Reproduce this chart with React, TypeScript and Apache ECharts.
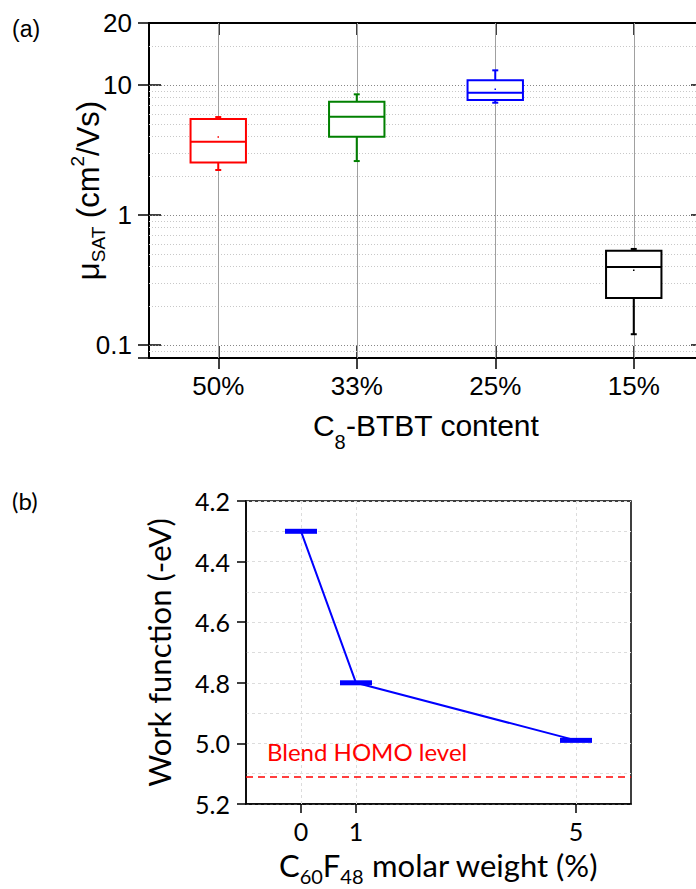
import React, { useEffect, useRef } from "react";
import * as echarts from "echarts";

// ---- Panel (a): saturation mobility vs. C8-BTBT content (box plots, log scale)
const contentCategories = ["50%", "33%", "25%", "15%"];
const boxColors = ["#ff0000", "#008000", "#0000ff", "#000000"];
const mobilityMin = [2.22, 2.6, 7.31, 0.121];
const mobilityQ1 = [2.54, 4.0, 7.67, 0.23];
const mobilityMedian = [3.66, 5.7, 8.73, 0.398];
const mobilityQ3 = [5.47, 7.44, 10.9, 0.53];
const mobilityMax = [5.67, 8.48, 12.97, 0.548];
const mobilityMean: (number | null)[] = [3.98, null, 9.27, 0.376];

const mobilityAxisMin = 0.0794;
const mobilityAxisMax = 30;
const mobilityTopLabel = "20";
const majorGridValues = [0.1, 1, 10];
const minorGridValues = [
  0.09, 0.2, 0.3, 0.4, 0.5, 0.6, 0.7, 0.8, 0.9,
  2, 3, 4, 5, 6, 7, 8, 9, 20,
];

// ---- Panel (b): work function vs. C60F48 molar weight
const weightPercent = [0, 1, 5];
const workFunction = [4.3, 4.8, 4.99];
const weightTicks = [0, 1, 5];
const homoLevel = 5.11;
const homoLabel = "Blend HOMO level";

const ARIAL = "Liberation Sans";
const SANS = "Lato";

function buildOption(): echarts.EChartsOption {
  const boxRows = contentCategories.map((_, i) => [
    i,
    mobilityMin[i],
    mobilityQ1[i],
    mobilityMedian[i],
    mobilityQ3[i],
    mobilityMax[i],
    mobilityMean[i] == null ? NaN : mobilityMean[i],
  ]);

  const logAxisBase = {
    type: "log" as const,
    logBase: 10,
    gridIndex: 0,
    min: mobilityAxisMin,
    max: mobilityAxisMax,
    splitLine: { show: false },
    minorTick: { show: false },
  };

  const catAxisBase = {
    type: "category" as const,
    gridIndex: 0,
    data: contentCategories,
    boundaryGap: true,
    splitLine: { show: false },
  };

  const hGrid = [
    ...majorGridValues.map((v) => ({
      yAxis: v,
      lineStyle: { color: "#888", type: [1, 2] as number[], width: 1 },
    })),
    ...minorGridValues.map((v) => ({
      yAxis: v,
      lineStyle: { color: "#c8c8c8", type: [1, 2] as number[], width: 1 },
    })),
  ];
  const vGrid = contentCategories.map((c) => ({
    xAxis: c,
    lineStyle: { color: "#a0a0a0", type: "solid" as const, width: 1 },
  }));

  return {
    animation: false,
    backgroundColor: "#ffffff",
    textStyle: { fontFamily: ARIAL },
    grid: [
      {
        left: 149,
        top: 23,
        right: -7,
        bottom: 531,
        show: false,
        outerBoundsMode: "none",
      },
      {
        left: 246,
        top: 501,
        right: 65,
        bottom: 85,
        show: true,
        borderColor: "#000",
        borderWidth: 1.5,
        outerBoundsMode: "none",
      },
    ] as any,
    xAxis: [
      {
        ...catAxisBase,
        position: "bottom",
        axisLine: { show: true, lineStyle: { color: "#000", width: 2 } },
        axisTick: {
          show: true,
          alignWithLabel: true,
          inside: false,
          length: 11,
          lineStyle: { color: "#000", width: 1.5 },
        },
        axisLabel: {
          show: true,
          margin: 15,
          color: "#000",
          fontFamily: ARIAL,
          fontSize: 26,
        },
        name: "{m|C}{s|8}{m|-BTBT content}",
        nameLocation: "middle",
        nameGap: 52,
        nameMoveOverlap: false,
        nameTextStyle: {
          rich: {
            m: {
              fontFamily: ARIAL,
              fontSize: 30,
              lineHeight: 34,
              verticalAlign: "top",
              color: "#000",
            },
            s: {
              fontFamily: ARIAL,
              fontSize: 20,
              lineHeight: 42,
              verticalAlign: "bottom",
              color: "#000",
            },
          },
        },
      },
      {
        ...catAxisBase,
        position: "bottom",
        axisLine: { show: false },
        axisTick: {
          show: true,
          alignWithLabel: true,
          inside: true,
          length: 12,
          lineStyle: { color: "#000", width: 1.5 },
        },
        axisLabel: { show: false },
      },
      {
        ...catAxisBase,
        position: "top",
        axisLine: { show: true, lineStyle: { color: "#000", width: 2 } },
        axisTick: {
          show: true,
          alignWithLabel: true,
          inside: true,
          length: 12,
          lineStyle: { color: "#000", width: 1.5 },
        },
        axisLabel: { show: false },
      },
      {
        type: "value",
        gridIndex: 1,
        min: -1,
        max: 6,
        interval: 1,
        axisLine: { show: true, onZero: false, lineStyle: { color: "#000", width: 1.5 } },
        axisTick: {
          show: true,
          length: 9,
          customValues: weightTicks,
          lineStyle: { color: "#000", width: 1.5 },
        },
        axisLabel: {
          show: true,
          customValues: weightTicks,
          margin: 14,
          color: "#000",
          fontFamily: SANS,
          fontSize: 25,
        },
        splitLine: { show: false },
        name: "{m|C}{s|60}{m|F}{s|48}{m| molar weight (%)}",
        nameLocation: "middle",
        nameGap: 45,
        nameMoveOverlap: false,
        nameTextStyle: {
          rich: {
            m: {
              fontFamily: SANS,
              fontSize: 31,
              lineHeight: 34,
              verticalAlign: "top",
              color: "#000",
            },
            s: {
              fontFamily: SANS,
              fontSize: 20,
              lineHeight: 37,
              verticalAlign: "bottom",
              color: "#000",
            },
          },
        },
      },
    ] as any,
    yAxis: [
      {
        ...logAxisBase,
        position: "left",
        axisLine: { show: true, lineStyle: { color: "#000", width: 2 } },
        axisTick: {
          show: true,
          inside: false,
          length: 11,
          lineStyle: { color: "#000", width: 1.5 },
        },
        axisLabel: {
          show: true,
          margin: 17,
          color: "#000",
          fontFamily: ARIAL,
          fontSize: 26,
          formatter: (v: number) => {
            if (v >= mobilityAxisMax * 0.99) return mobilityTopLabel;
            if (v < 0.095) return "";
            return String(v);
          },
        },
        name: "{m|μ}{s|SAT}{m| (cm}{p|2}{m|/Vs)}",
        nameLocation: "middle",
        nameGap: 41,
        nameRotate: 90,
        nameMoveOverlap: false,
        nameTextStyle: {
          rich: {
            m: {
              fontFamily: ARIAL,
              fontSize: 31,
              lineHeight: 34,
              verticalAlign: "middle",
              color: "#000",
            },
            s: {
              fontFamily: ARIAL,
              fontSize: 19,
              lineHeight: 40,
              verticalAlign: "bottom",
              color: "#000",
            },
            p: {
              fontFamily: ARIAL,
              fontSize: 19,
              lineHeight: 19,
              verticalAlign: "top",
              color: "#000",
            },
          },
        },
      },
      {
        ...logAxisBase,
        position: "left",
        axisLine: { show: false },
        axisTick: {
          show: true,
          inside: true,
          length: 12,
          lineStyle: { color: "#000", width: 1.5 },
        },
        axisLabel: { show: false },
      },
      {
        ...logAxisBase,
        position: "right",
        axisLine: { show: true, lineStyle: { color: "#000", width: 2 } },
        axisTick: {
          show: true,
          inside: true,
          length: 12,
          lineStyle: { color: "#000", width: 1.5 },
        },
        axisLabel: { show: false },
      },
      {
        type: "value",
        gridIndex: 1,
        inverse: true,
        min: 4.2,
        max: 5.2,
        interval: 0.2,
        axisLine: { show: true, onZero: false, lineStyle: { color: "#000", width: 1.5 } },
        axisTick: {
          show: true,
          length: 9,
          lineStyle: { color: "#000", width: 1.5 },
        },
        axisLabel: {
          show: true,
          margin: 16,
          color: "#000",
          fontFamily: SANS,
          fontSize: 25,
          formatter: (v: number) => v.toFixed(1),
        },
        splitLine: {
          show: true,
          lineStyle: { color: "#dcdcdc", type: [3, 3], width: 1 },
        },
        minorTick: { show: false, splitNumber: 2 },
        minorSplitLine: {
          show: true,
          lineStyle: { color: "#dcdcdc", type: [3, 3], width: 1 },
        },
        name: "Work function (-eV)",
        nameLocation: "middle",
        nameGap: 72,
        nameMoveOverlap: false,
        nameTextStyle: {
          fontFamily: SANS,
          fontSize: 31,
          color: "#000",
        },
      },
    ] as any,
    series: [
      // gridlines of panel (a)
      {
        type: "line",
        xAxisIndex: 0,
        yAxisIndex: 0,
        data: [],
        z: 1,
        silent: true,
        markLine: {
          silent: true,
          z: 1,
          symbol: ["none", "none"],
          label: { show: false },
          data: [...hGrid, ...vGrid] as any,
        },
      },
      // box plots of panel (a)
      {
        type: "custom",
        xAxisIndex: 0,
        yAxisIndex: 0,
        z: 5,
        data: boxRows,
        encode: { x: 0, y: [1, 2, 3, 4, 5] },
        renderItem: (_params: any, api: any) => {
          const idx = api.value(0) as number;
          const color = boxColors[idx];
          const pMin = api.coord([idx, api.value(1)]);
          const pQ1 = api.coord([idx, api.value(2)]);
          const pMed = api.coord([idx, api.value(3)]);
          const pQ3 = api.coord([idx, api.value(4)]);
          const pMax = api.coord([idx, api.value(5)]);
          const band =
            api.coord([1, api.value(3)])[0] - api.coord([0, api.value(3)])[0];
          const half = (band * 0.4) / 2;
          const cap = 3;
          const cx = pMed[0];
          const stroke = { stroke: color, lineWidth: 2, fill: "none" };
          const children: any[] = [
            {
              type: "line",
              shape: { x1: cx, y1: pMax[1], x2: cx, y2: pQ3[1] },
              style: stroke,
            },
            {
              type: "line",
              shape: { x1: cx, y1: pQ1[1], x2: cx, y2: pMin[1] },
              style: stroke,
            },
            {
              type: "line",
              shape: { x1: cx - cap, y1: pMax[1], x2: cx + cap, y2: pMax[1] },
              style: stroke,
            },
            {
              type: "line",
              shape: { x1: cx - cap, y1: pMin[1], x2: cx + cap, y2: pMin[1] },
              style: stroke,
            },
            {
              type: "rect",
              shape: {
                x: cx - half,
                y: pQ3[1],
                width: half * 2,
                height: pQ1[1] - pQ3[1],
              },
              style: { stroke: color, lineWidth: 2, fill: "#ffffff" },
            },
            {
              type: "line",
              shape: { x1: cx - half, y1: pMed[1], x2: cx + half, y2: pMed[1] },
              style: stroke,
            },
          ];
          const mean = api.value(6);
          if (isFinite(mean)) {
            const pMean = api.coord([idx, mean]);
            children.push({
              type: "rect",
              shape: { x: cx - 0.75, y: pMean[1] - 0.75, width: 1.5, height: 1.5 },
              style: { fill: color },
            });
          }
          return { type: "group", children };
        },
      },
      // vertical gridlines of panel (b)
      {
        type: "line",
        xAxisIndex: 3,
        yAxisIndex: 3,
        data: [],
        z: 1,
        silent: true,
        markLine: {
          silent: true,
          z: 1,
          symbol: ["none", "none"],
          label: { show: false },
          lineStyle: { color: "#dcdcdc", type: [3, 3], width: 1 },
          data: weightTicks.map((v) => ({ xAxis: v })) as any,
        },
      },
      // work function
      {
        type: "line",
        xAxisIndex: 3,
        yAxisIndex: 3,
        z: 5,
        data: weightPercent.map((w, i) => [w, workFunction[i]]),
        symbol: "rect",
        symbolSize: [32, 5],
        showSymbol: true,
        showAllSymbol: true,
        itemStyle: { color: "#0000ff" },
        lineStyle: { color: "#0000ff", width: 2 },
        markLine: {
          silent: true,
          symbol: ["none", "none"],
          lineStyle: { color: "#ff0000", type: [7, 5], width: 1.5 },
          label: {
            show: true,
            position: "insideStartTop",
            formatter: homoLabel,
            color: "#ff0000",
            fontFamily: SANS,
            fontSize: 24,
            distance: [21, 13],
          },
          data: [{ yAxis: homoLevel }] as any,
        },
      },
    ],
    graphic: [
      {
        type: "text",
        left: 12,
        top: 17,
        style: { text: "(a)", fontFamily: ARIAL, fontSize: 23, fill: "#000" },
      },
      {
        type: "text",
        left: 12,
        top: 488,
        style: { text: "(b)", fontFamily: SANS, fontSize: 24, fill: "#000" },
      },
    ],
  } as echarts.EChartsOption;
}

export default function App() {
  const ref = useRef<HTMLDivElement>(null);
  useEffect(() => {
    if (!ref.current) return;
    const chart = echarts.init(ref.current, null, { renderer: "svg" });
    chart.setOption(buildOption());
    return () => chart.dispose();
  }, []);
  return (
    <div
      ref={ref}
      style={{
        position: "absolute",
        left: 0,
        top: 0,
        width: 696,
        height: 889,
        background: "#ffffff",
      }}
    />
  );
}
